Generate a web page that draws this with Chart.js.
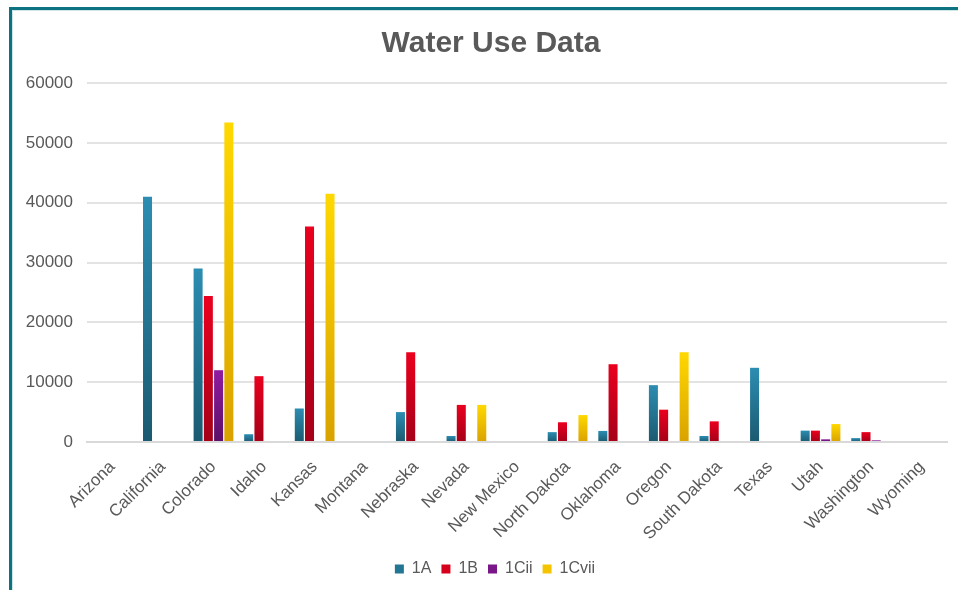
<!DOCTYPE html>
<html>
<head>
<meta charset="utf-8">
<title>Water Use Data</title>
<script src="https://cdn.jsdelivr.net/npm/chart.js@4"></script>
<style>
  html, body { margin: 0; padding: 0; background: #ffffff; }
  #wrap { position: relative; width: 958px; height: 590px; overflow: hidden; }
  #frame {
    position: absolute; left: 9px; top: 7px; right: -10px; bottom: -10px;
    border-top: 3px solid #0d7381; border-left: 3px solid #0d7381;
    box-shadow: inset 1px 1px 0 #cfe5e8;
  }
  #chart { position: absolute; left: 0; top: 0; }
</style>
</head>
<body>
<div id="wrap">
  <div id="frame"></div>
  <canvas id="chart" width="958" height="590"></canvas>
</div>
<script>
// Water use by state, split by category
const states = [
  'Arizona', 'California', 'Colorado', 'Idaho', 'Kansas', 'Montana',
  'Nebraska', 'Nevada', 'New Mexico', 'North Dakota', 'Oklahoma', 'Oregon',
  'South Dakota', 'Texas', 'Utah', 'Washington', 'Wyoming'
];
const use1A    = [null, 41000, 29000, 1300, 5600, null, 5000, 1000, null, 1650, 1850, 9500, 1000, 12400, 1900, 650, null];
const use1B    = [null, null, 24400, 11000, 36000, null, 15000, 6200, null, 3300, 13000, 5400, 3450, null, 1900, 1650, null];
const use1Cii  = [null, null, 12000, null, null, null, null, null, null, 150, null, null, null, null, 450, 280, null];
const use1Cvii = [null, null, 53400, null, 41500, null, null, 6200, null, 4500, null, 15000, null, null, 3000, null, null];
const yTicks   = [0, 10000, 20000, 30000, 40000, 50000, 60000];

const textColor = '#595959';
const fontFamily = '"Liberation Sans", Arial, sans-serif';

// vertical gradient running from the top of each bar down to the baseline
function barGradient(top, bottom) {
  return (ctx) => {
    const chart = ctx.chart;
    const y = chart.scales && chart.scales.y;
    if (!chart.chartArea || !y || ctx.type !== 'data' || ctx.parsed == null) return top;
    const yTop = y.getPixelForValue(ctx.parsed.y);
    const yBase = y.getPixelForValue(0);
    if (!isFinite(yTop) || !isFinite(yBase) || yBase - yTop < 1) return bottom;
    const g = chart.ctx.createLinearGradient(0, yTop, 0, yBase);
    g.addColorStop(0, top);
    g.addColorStop(1, bottom);
    return g;
  };
}

// centre the title and legend over the whole frame rather than the padded box
const recentre = {
  id: 'recentre',
  afterLayout(chart) {
    const setSpan = (box, left, right) => {
      if (!box) return;
      box.left = left;
      box.right = right;
      box.width = right - left;
    };
    setSpan(chart.titleBlock, 35, 947);
    setSpan(chart.legend, 43, 947);
  }
};

const series = [
  { label: '1A',    data: use1A,    top: '#2c8db2', bottom: '#1b5a70', swatch: '#237594' },
  { label: '1B',    data: use1B,    top: '#ea001e', bottom: '#a50019', swatch: '#d6001c' },
  { label: '1Cii',  data: use1Cii,  top: '#901ca0', bottom: '#5c0f68', swatch: '#7a1788' },
  { label: '1Cvii', data: use1Cvii, top: '#ffd800', bottom: '#d9a200', swatch: '#f5c400' }
];

new Chart(document.getElementById('chart'), {
  type: 'bar',
  data: {
    labels: states,
    datasets: series.map(s => ({
      label: s.label,
      data: s.data,
      backgroundColor: barGradient(s.top, s.bottom),
      borderWidth: 0,
      swatch: s.swatch,
      categoryPercentage: 0.81,
      barPercentage: 0.88
    }))
  },
  plugins: [recentre],
  options: {
    responsive: false,
    devicePixelRatio: 1,
    animation: false,
    layout: { padding: { left: 0, right: 11, top: 0, bottom: 3 } },
    plugins: {
      title: {
        display: true,
        text: 'Water Use Data',
        color: textColor,
        font: { family: fontFamily, size: 30, weight: 'bold' },
        padding: { top: 26, bottom: 21 }
      },
      legend: {
        position: 'bottom',
        labels: {
          color: textColor,
          font: { family: fontFamily, size: 16 },
          boxWidth: 9,
          boxHeight: 9,
          padding: 10,
          generateLabels(chart) {
            const items = Chart.defaults.plugins.legend.labels.generateLabels(chart);
            items.forEach(it => {
              const ds = chart.data.datasets[it.datasetIndex];
              it.fillStyle = ds.swatch;
              it.strokeStyle = ds.swatch;
              it.lineWidth = 0;
            });
            return items;
          }
        }
      },
      tooltip: { enabled: false }
    },
    scales: {
      x: {
        grid: { display: false, drawTicks: false },
        border: { display: true, color: '#d9d9d9', width: 2 },
        ticks: {
          color: textColor,
          font: { family: fontFamily, size: 17 },
          minRotation: 45,
          maxRotation: 45,
          autoSkip: false,
          padding: 15
        },
        afterFit(scale) { scale.height = 109; }
      },
      y: {
        min: 0,
        max: 60000,
        afterBuildTicks(scale) { scale.ticks = yTicks.map(v => ({ value: v })); },
        grid: { color: '#e3e3e3', lineWidth: 2, drawTicks: false },
        border: { display: false },
        ticks: {
          color: textColor,
          font: { family: fontFamily, size: 17 },
          padding: 14,
          callback: v => String(v)
        },
        afterFit(scale) { scale.width = 87; }
      }
    }
  }
});
</script>
</body>
</html>
